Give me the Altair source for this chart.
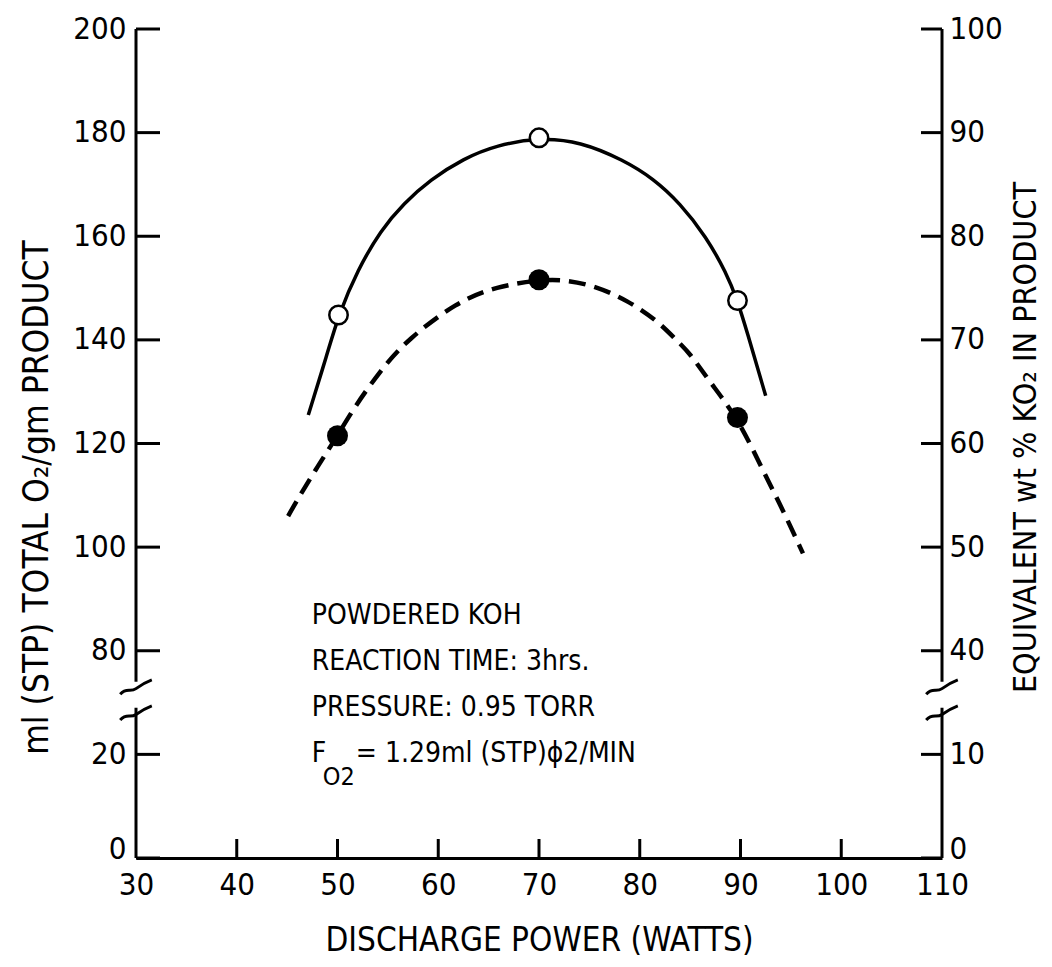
import altair as alt
import pandas as pd

# ---- data ----
solid_x = [47.1, 49.0, 50.1, 52.0, 54.3, 56.6, 59.2, 62.5, 65.8, 70.0, 74.1, 78.4, 81.3, 84.0, 86.6, 88.6, 89.7, 90.6, 92.5]
solid_y = [125.5, 137.4, 144.8, 153.5, 161.2, 166.4, 170.9, 175.0, 177.6, 179.0, 178.3, 174.7, 171.2, 166.4, 159.9, 152.9, 147.6, 141.9, 129.2]

dashed_x = [45.1, 46.0, 48.0, 50.0, 51.6, 54.3, 56.9, 61.9, 65.8, 70.0, 72.7, 75.7, 78.7, 81.7, 83.6, 85.0, 86.9, 89.7, 92.2, 94.2, 96.2]
dashed_y = [106.0, 109.1, 115.5, 121.5, 126.8, 134.2, 140.0, 147.4, 150.3, 151.6, 151.6, 150.3, 147.7, 143.8, 140.0, 137.4, 132.0, 125.0, 114.9, 107.2, 98.8]

open_x = [50.1, 70.0, 89.7]
open_y = [144.8, 179.0, 147.6]
filled_x = [50.0, 70.0, 89.7]
filled_y = [121.5, 151.6, 125.0]

x_labels = [30, 40, 50, 60, 70, 80, 90, 100, 110]
x_inner_ticks = [40, 50, 60, 70, 80, 90, 100]
left_ticks = [0, 20, 80, 100, 120, 140, 160, 180, 200]
right_ticks = [0, 10, 40, 50, 60, 70, 80, 90, 100]

# broken-axis pieces (left-axis units)
seg_start = [0, 74]
seg_end = [29, 200]
break_x = [30, 30, 110, 110]
break_v = [28, 73, 28, 73]

note_text = ["POWDERED KOH", "REACTION TIME: 3hrs.", "PRESSURE: 0.95 TORR", "F"]
note_x = [47.45, 47.45, 47.45, 47.45]
note_d = [46.7, 37.8, 29.0, 20.1]
sub_text = ["O2"]
sub_d = [15.6]
rest_text = ["= 1.29ml (STP)\u03d52/MIN"]
rest_d = [20.1]

FONT = "DejaVu Sans Condensed, DejaVu Sans, sans-serif"
DISP = "datum.v >= 50 ? datum.v - 40 : datum.v"
W, H = 806, 829

xs = alt.Scale(domain=[30, 110], nice=False, zero=False)
ys = alt.Scale(domain=[0, 160], nice=False, zero=False)

zero_base = {"condition": {"test": "datum.value == 0", "value": "alphabetic"}, "value": "middle"}

x_axis = alt.Axis(values=x_labels, ticks=False, domain=True, domainWidth=3, domainColor="black",
                  grid=False, labelFont=FONT, labelFontSize=31, labelColor="black", labelPadding=12,
                  labelFlush=False, labelOverlap=False,
                  title="DISCHARGE POWER (WATTS)", titleFont=FONT, titleFontSize=33,
                  titleFontWeight="normal", titleColor="black", titleY=82, titleBaseline="middle")
X = alt.X("x:Q", scale=xs, axis=x_axis)

left_vals = [v - 40 if v >= 50 else v for v in left_ticks]
left_axis = alt.Axis(values=left_vals, labelExpr="datum.value >= 35 ? datum.value + 40 : datum.value",
                     ticks=False, domain=False, grid=False, labelFont=FONT, labelFontSize=31,
                     labelColor="black", labelPadding=10, labelOverlap=False, labelFlush=False,
                     labelBaseline=zero_base,
                     title="ml (STP) TOTAL O\u2082/gm PRODUCT", titleFont=FONT, titleFontSize=35,
                     titleFontWeight="normal", titleColor="black", titleAngle=270,
                     titleX=-100, titleY=468, titleAlign="center", titleBaseline="middle")
Y = alt.Y("d:Q", scale=ys, axis=left_axis)

right_vals = [2 * r - 40 if r >= 25 else 2 * r for r in right_ticks]
right_axis = alt.Axis(orient="right", values=right_vals,
                      labelExpr="datum.value >= 35 ? (datum.value + 40) / 2 : datum.value / 2",
                      ticks=False, domain=False, grid=False, labelFont=FONT, labelFontSize=31,
                      labelColor="black", labelPadding=7, labelOverlap=False, labelFlush=False,
                      labelBaseline=zero_base,
                      title="EQUIVALENT wt % KO\u2082 IN PRODUCT", titleFont=FONT, titleFontSize=32,
                      titleFontWeight="normal", titleColor="black", titleAngle=270,
                      titleX=83, titleY=408, titleAlign="center", titleBaseline="middle")

solid_df = pd.DataFrame({"x": solid_x, "v": solid_y})
dashed_df = pd.DataFrame({"x": dashed_x, "v": dashed_y})
open_df = pd.DataFrame({"x": open_x, "v": open_y})
filled_df = pd.DataFrame({"x": filled_x, "v": filled_y})
seg_df = pd.DataFrame({"v": seg_start, "v2": seg_end})
lt_df = pd.DataFrame({"v": left_ticks})
xt_df = pd.DataFrame({"x": x_inner_ticks})
br_df = pd.DataFrame({"x": break_x, "v": break_v})
rt_df = pd.DataFrame({"r": right_ticks})
note_df = pd.DataFrame({"x": note_x, "d": note_d, "t": note_text})
sub_df = pd.DataFrame({"x": note_x[:1], "d": sub_d, "t": sub_text})
rest_df = pd.DataFrame({"x": note_x[:1], "d": rest_d, "t": rest_text})

solid = alt.Chart(solid_df).transform_calculate(d=DISP).mark_line(
    color="black", strokeWidth=3.5, interpolate="basis").encode(x=X, y=Y)
dashed = alt.Chart(dashed_df).transform_calculate(d=DISP).mark_line(
    color="black", strokeWidth=4.5, strokeDash=[17, 9], interpolate="basis").encode(x=X, y=Y)
opens = alt.Chart(open_df).transform_calculate(d=DISP).mark_point(
    shape="circle", filled=True, fill="white", stroke="black", strokeWidth=2.5, size=340, opacity=1
).encode(x=X, y=Y)
fills = alt.Chart(filled_df).transform_calculate(d=DISP).mark_point(
    shape="circle", filled=True, color="black", size=440, opacity=1).encode(x=X, y=Y)

segL = alt.Chart(seg_df).transform_calculate(
    d=DISP, d2="datum.v2 >= 50 ? datum.v2 - 40 : datum.v2").mark_rule(
    color="black", strokeWidth=3).encode(x=alt.value(0), y=Y, y2=alt.Y2("d2:Q"))
segR = alt.Chart(seg_df).transform_calculate(
    d=DISP, d2="datum.v2 >= 50 ? datum.v2 - 40 : datum.v2").mark_rule(
    color="black", strokeWidth=3).encode(x=alt.value(W), y=Y, y2=alt.Y2("d2:Q"))
lticks = alt.Chart(lt_df).transform_calculate(d=DISP).mark_rule(
    color="black", strokeWidth=3).encode(y=Y, x=alt.value(0), x2=alt.value(24))
xticks = alt.Chart(xt_df).mark_rule(color="black", strokeWidth=3).encode(
    x=X, y=alt.value(H), y2=alt.value(H - 19))
breaks = alt.Chart(br_df).transform_calculate(d=DISP).mark_point(
    shape="M -1 0.45 C -0.6 0.0 -0.35 0.35 0 0.1 S 0.6 -0.3 1 -0.45",
    filled=False, stroke="black", strokeWidth=3, size=1000, opacity=1).encode(x=X, y=Y)

notes = alt.Chart(note_df).mark_text(align="left", baseline="middle", font=FONT, fontSize=28,
                                     color="black").encode(x=X, y=Y, text="t:N")
subs = alt.Chart(sub_df).mark_text(align="left", baseline="middle", font=FONT, fontSize=25,
                                   color="black", dx=11).encode(x=X, y=Y, text="t:N")
rest = alt.Chart(rest_df).mark_text(align="left", baseline="middle", font=FONT, fontSize=28,
                                    color="black", dx=44).encode(x=X, y=Y, text="t:N")

inner = alt.layer(segL, segR, lticks, xticks, breaks, solid, dashed, opens, fills, notes, subs, rest)

rticks = alt.Chart(rt_df).transform_calculate(
    d="datum.r >= 25 ? 2 * datum.r - 40 : 2 * datum.r").mark_rule(
    color="black", strokeWidth=3).encode(
    y=alt.Y("d:Q", scale=ys, axis=right_axis), x=alt.value(W - 21), x2=alt.value(W))

chart = alt.layer(inner, rticks).resolve_scale(y="independent").properties(
    width=W, height=H,
    autosize=alt.AutoSizeParams(type="none"),
    padding={"left": 128, "top": 21, "right": 100, "bottom": 99},
    background="white",
).configure_view(stroke=None)

chart.save("out.html", embed_options={"renderer": "svg", "actions": False})
